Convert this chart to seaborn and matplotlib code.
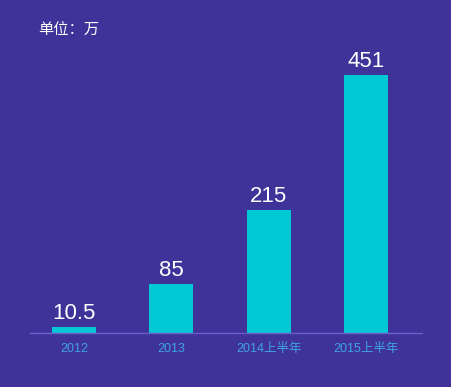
import matplotlib
matplotlib.use("Agg")
import matplotlib.pyplot as plt
import seaborn as sns
import pandas as pd

categories = ["2012", "2013", "2014上半年", "2015上半年"]
values = [10.5, 85, 215, 451]
value_labels = ["10.5", "85", "215", "451"]

bg = "#3f3399"
bar_color = "#00c8d4"

sns.set_theme(style="white")
plt.rcParams['font.family'] = ['Liberation Sans', 'Noto Sans CJK SC', 'DejaVu Sans']

fig = plt.figure(figsize=(4.52, 3.87), dpi=100, facecolor=bg)
ax = fig.add_axes([25 / 452, 54 / 387, 400 / 452, 293 / 387])
ax.set_facecolor(bg)

df = pd.DataFrame({"cat": categories, "val": values})
sns.barplot(data=df, x="cat", y="val", color=bar_color, saturation=1,
            width=0.45, linewidth=0, ax=ax)

for i, (v, lab) in enumerate(zip(values, value_labels)):
    ax.text(i, v + 6, lab, ha="center", va="bottom", color="white",
            fontsize=16)

ax.set_xlim(-0.503, 3.606)
ax.set_ylim(0, 451 * 293 / 258)
ax.set_xlabel("")
ax.set_ylabel("")
ax.set_yticks([])
for s in ["top", "right", "left"]:
    ax.spines[s].set_visible(False)
ax.spines["bottom"].set_color("#6b5fd0")
ax.spines["bottom"].set_linewidth(1)
ax.spines["bottom"].set_bounds(-0.45, 3.576)
ax.tick_params(axis="x", length=0, pad=7, labelsize=9, labelcolor="#3fa2e6")

fig.text(38 / 452, 1 - 30 / 387, "单位：万", color="white", fontsize=11,
         va="center", ha="left", family=["Noto Sans CJK SC", "DejaVu Sans"])

fig.savefig("out.png", dpi=100, facecolor=bg)
